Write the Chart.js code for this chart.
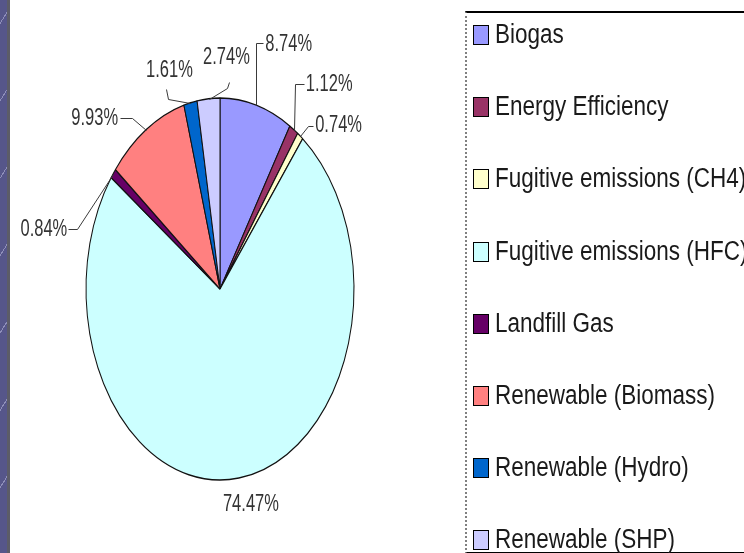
<!DOCTYPE html>
<html><head><meta charset="utf-8">
<script src="https://cdn.jsdelivr.net/npm/chart.js@4/dist/chart.umd.min.js"></script>
<style>
html,body{margin:0;padding:0;width:744px;height:553px;overflow:hidden;background:#fff;}
#wrap{position:relative;width:744px;height:553px;overflow:hidden;background:#fff;}
#strip{position:absolute;left:0;top:0;width:7px;height:553px;background:#56568a;background-image:repeating-linear-gradient(-58deg,transparent 0 40px,rgba(190,190,225,0.55) 40px 41px);}
#strip2{position:absolute;left:7px;top:0;width:3px;height:553px;background:#5c5c68;}
#c{position:absolute;left:0;top:0;}
#legend{position:absolute;left:465px;top:11px;width:330px;height:539px;border-top:2px solid #000;border-bottom:2px solid #000;border-left:2px dotted #808080;}
.item{position:absolute;left:6px;height:24px;display:flex;align-items:center;white-space:nowrap;}
.sw{width:16px;height:20px;border:1px solid #000;box-sizing:border-box;flex:none;}
.tx{font-family:"Liberation Sans",Arial,sans-serif;font-size:22.5px;color:#1a1a1a;transform:scaleY(1.2);transform-origin:left center;margin-left:6px;line-height:24px;}
</style>
</head><body>
<div id="wrap">
<canvas id="c" width="744" height="553"></canvas>
<div id="strip"></div><div id="strip2"></div>
<div id="legend"></div>
</div>
<script>
const categories = ["Biogas","Energy Efficiency","Fugitive emissions (CH4)","Fugitive emissions (HFC)","Landfill Gas","Renewable (Biomass)","Renewable (Hydro)","Renewable (SHP)"];
const shares = [8.74, 1.12, 0.74, 74.47, 0.84, 9.93, 1.61, 2.74];
const shareLabels = ["8.74%","1.12%","0.74%","74.47%","0.84%","9.93%","1.61%","2.74%"];
const sliceColors = ["#9999FF","#993366","#FFFFCC","#CCFFFF","#660066","#FF8080","#0066CC","#CCCCFF"];

// styling / layout (not data)
const SY = 1.425; // vertical stretch of the pie (ellipse)
const leaderPaths = [
  [[0,0],[0,-62],[7,-62]],
  [[0,0],[1,-46],[10,-46]],
  [[0,0],[8,-10],[13,-10]],
  [],
  [[0,0],[-36,55],[-45,55]],
  [[0,0],[-14,-12],[-26,-12]],
  [[0,0],[-22,-4],[-24,-14]],
  [[0,0],[18,-11],[20,-17]]
];
const textAnchors = [[9,-61,'left'],[12,-45,'left'],[15,-10,'left'],[12,27,'center'],[-46,56,'right'],[-28,-11,'right'],[-21,-32,'center'],[18,-41,'center']];

const ellipsePlugin = {
  id:'ellipse',
  beforeDatasetsDraw(chart){
    const el = chart.getDatasetMeta(0).data[0];
    const ctx = chart.ctx;
    ctx.save();
    ctx.translate(0, el.y);
    ctx.scale(1, SY);
    ctx.translate(0, -el.y);
  },
  afterDatasetsDraw(chart){ chart.ctx.restore(); }
};

const labelPlugin = {
  id:'pctLabels',
  afterDraw(chart){
    const ctx = chart.ctx;
    const meta = chart.getDatasetMeta(0);
    ctx.save();
    meta.data.forEach((arc,i)=>{
      const p = arc.getProps(['x','y','startAngle','endAngle','outerRadius'], true);
      const mid = (p.startAngle + p.endAngle)/2;
      const ex = p.x + p.outerRadius*Math.cos(mid);
      const ey = p.y + p.outerRadius*Math.sin(mid)*SY;
      const path = leaderPaths[i];
      if (path.length){
        ctx.beginPath();
        ctx.strokeStyle = '#3a3a3a';
        ctx.lineWidth = 1;
        path.forEach((pt,k)=>{ const X = Math.round(ex+pt[0])+0.5, Y = Math.round(ey+pt[1])+0.5; k?ctx.lineTo(X,Y):ctx.moveTo(X,Y); });
        ctx.stroke();
      }
      const a = textAnchors[i];
      ctx.save();
      ctx.translate(ex+a[0], ey+a[1]);
      ctx.scale(1, 1.4);
      ctx.font = '16.5px "Liberation Sans", Arial, sans-serif';
      ctx.fillStyle = '#333';
      ctx.textAlign = a[2];
      ctx.textBaseline = 'middle';
      ctx.fillText(shareLabels[i], 0, 0);
      ctx.restore();
    });
    ctx.restore();
  }
};

new Chart(document.getElementById('c'), {
  type:'pie',
  data:{ labels:categories, datasets:[{ data:shares, backgroundColor:sliceColors, borderColor:'#111', borderWidth:1, radius:134, clip:false }]},
  options:{
    responsive:false, animation:false,
    layout:{ padding:{ left:86, right:390, top:155, bottom:130 } },
    plugins:{ legend:{display:false}, tooltip:{enabled:false}, title:{display:false} },
    events:[]
  },
  plugins:[ellipsePlugin, labelPlugin]
});

// legend (HTML, generated from the arrays)
const lg = document.getElementById('legend');
categories.forEach((name,i)=>{
  const it = document.createElement('div');
  it.className='item';
  it.style.top = (22 + 72.2*i - 12) + 'px';
  const sw = document.createElement('span'); sw.className='sw'; sw.style.background = sliceColors[i];
  const tx = document.createElement('span'); tx.className='tx'; tx.textContent = name;
  it.appendChild(sw); it.appendChild(tx); lg.appendChild(it);
});
</script>
</body></html>
